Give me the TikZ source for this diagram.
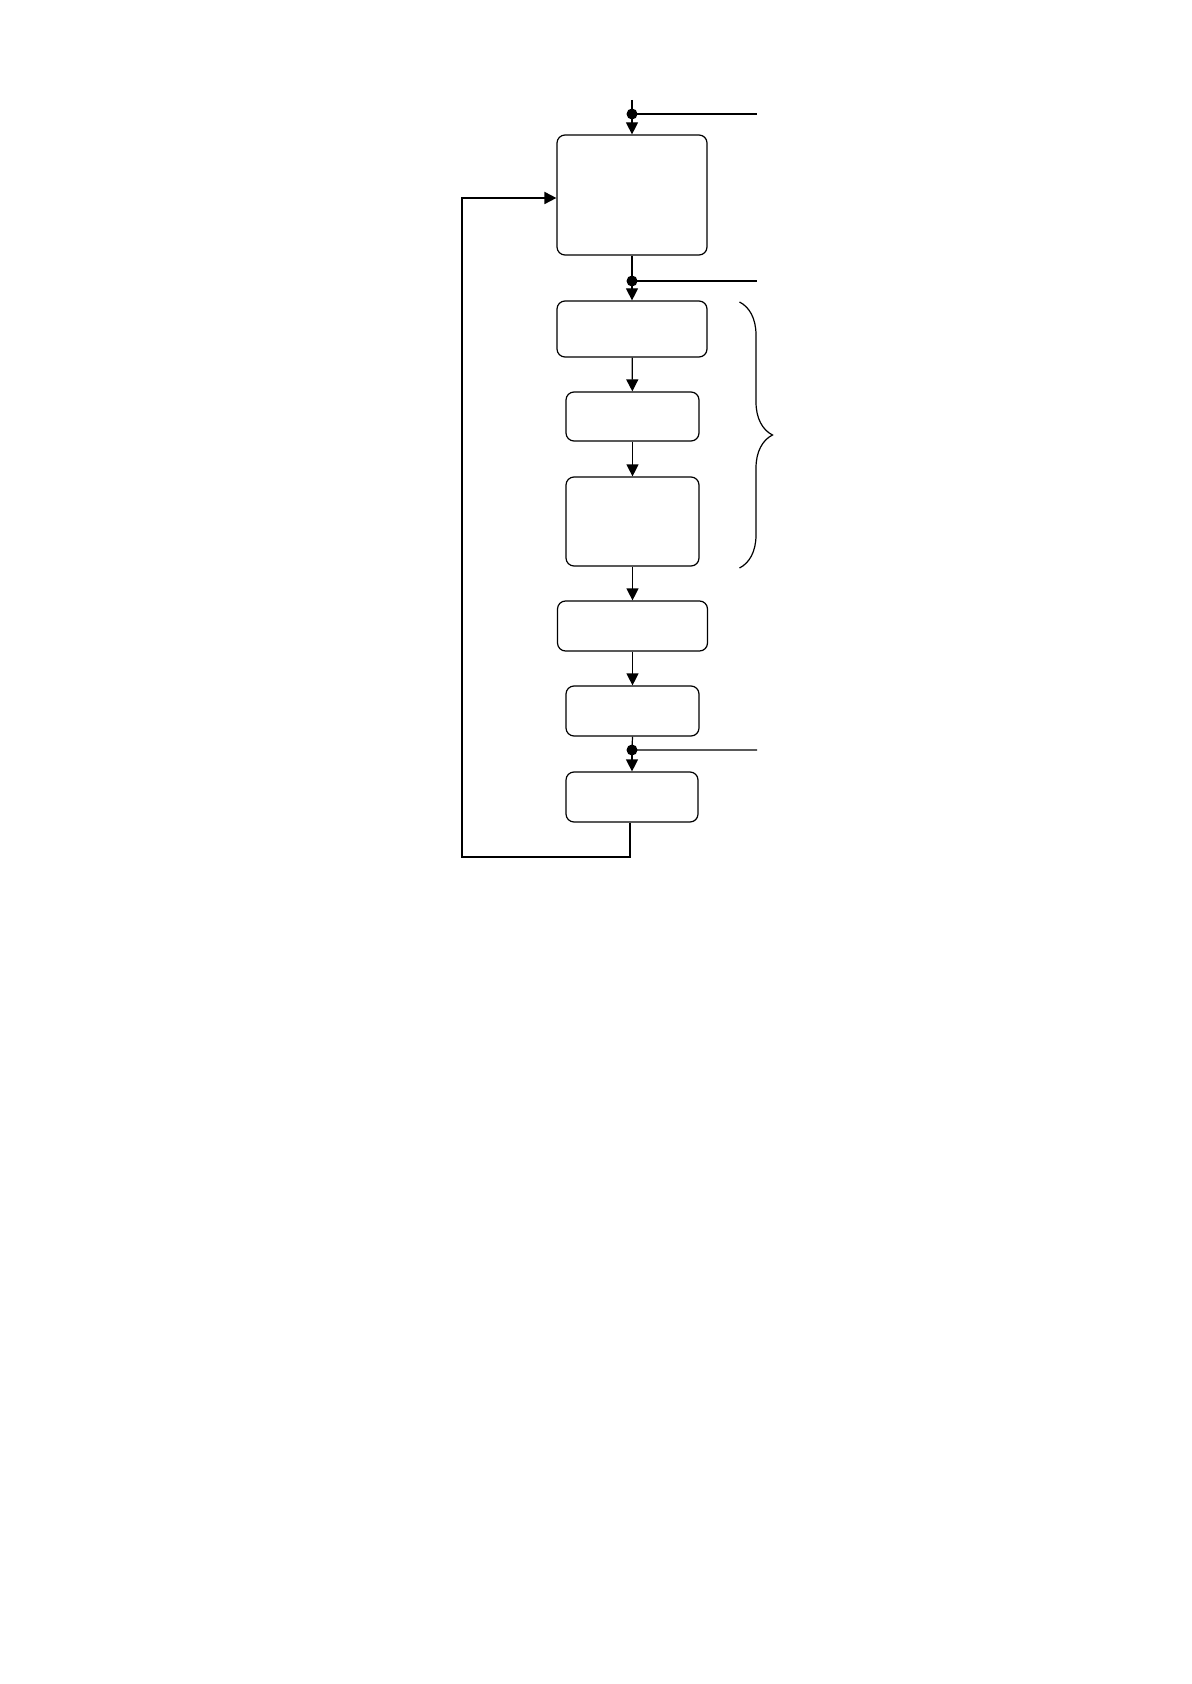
\documentclass[tikz,border=0pt]{standalone}
\usetikzlibrary{arrows.meta,decorations.pathreplacing}
\tikzset{stepbox/.style={draw, rounded corners=4pt, line width=.6pt,
        minimum width=#1, inner sep=0pt},
    junction/.style={circle, fill, inner sep=0pt, minimum size=5.5pt},
    flow/.style={line width=.6pt, -{Triangle[width=6pt,length=6pt]}}
}
\begin{document}
\begin{tikzpicture}[x=.5pt,y=-.5pt]
      \useasboundingbox (0,0) rectangle (1191,1684);
      \node[stepbox=75pt, minimum height=60pt] (S1) at (632,195) {};
      \node[stepbox=75pt, minimum height=28pt] (S2) at (632,329) {};
      \node[stepbox=66.5pt, minimum height=24.5pt] (S3) at (632.5,416.5) {};
      \node[stepbox=66.5pt, minimum height=44.5pt] (S4) at (632.5,521.5) {};
      \node[stepbox=75pt, minimum height=25pt] (S5) at (632.5,626) {};
      \node[stepbox=66.5pt, minimum height=25pt] (S6) at (632.5,711) {};
      \node[stepbox=66pt, minimum height=25pt] (S7) at (632,797) {};

      \node[junction] (D1) at (632,114) {};
      \node[junction] (D2) at (632,281) {};
      \node[junction] (D3) at (632,750) {};
      \coordinate (T0) at (632,100);
      \coordinate (R1) at (757,114);
      \coordinate (R2) at (757,281);
      \coordinate (R3) at (757,750);
      \coordinate (L0) at (462,857);

      \draw[line width=.6pt] (T0) -- (D1.center) -- (R1);
      \draw[flow] (D1.center) -- (S1.north);
      \draw[line width=.6pt] (S1.south) -- (D2.center) -- (R2);
      \draw[flow] (D2.center) -- (S2.north);
      \draw[flow] (S2) -- (S3);
      \draw[flow] (S3) -- (S4);
      \draw[flow] (S4) -- (S5);
      \draw[flow] (S5) -- (S6);
      \draw[line width=.6pt] (S6.south) -- (D3.center) -- (R3);
      \draw[flow] (D3.center) -- (S7.north);

      % loop back to the top
      \draw[line width=.9pt, -{Triangle[width=6pt,length=6pt]}]
        ([xshift=-1pt]S7.south) |- (L0) |- ([yshift=-1.5pt]S1.west);

      \draw[line width=.6pt, decorate, decoration={brace, amplitude=16.5pt}]
        (739.5,302) -- (739.5,568);
    \end{tikzpicture}
\end{document}
